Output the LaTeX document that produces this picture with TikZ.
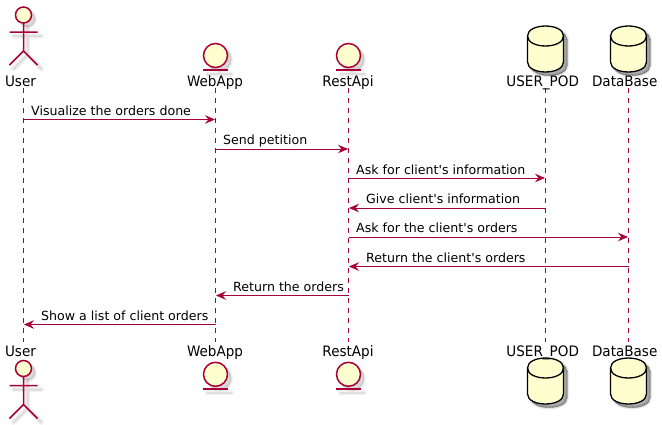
\documentclass[tikz,border=0pt]{standalone}
\usepackage{fontspec}
\setmainfont{DejaVu Sans}
\newfontfamily\msgfont{DejaVu Sans}
\newfontfamily\seqfont[FakeStretch=0.94]{DejaVu Sans}
\usetikzlibrary{arrows.meta}
\definecolor{seqline}{HTML}{A80036}
\definecolor{seqfill}{HTML}{FEFECE}
\tikzset{
  lifeline/.style={draw=seqline,line width=0.8pt,dash pattern=on 5pt off 5pt},
  msg/.style={draw=seqline,line width=0.9pt,-{Stealth[length=10pt,width=8.5pt,inset=3.5pt]},shorten >=0.5pt},
  msglabel/.style={font=\msgfont\fontsize{12.6}{15}\selectfont,anchor=base west,inner sep=0pt,text=black},
  partlabel/.style={font=\seqfont\fontsize{14.4}{17}\selectfont,anchor=base,inner sep=0pt,text=black},
  partshape/.style={draw=seqline,line width=1.5pt,fill=seqfill},
  partbar/.style={draw=seqline,line width=1.5pt},
  softa/.style={draw=black,draw opacity=0.05,line width=5pt,line cap=round},
  softb/.style={draw=black,draw opacity=0.08,line width=2.5pt,line cap=round},
  softfilla/.style={fill=black,fill opacity=0.06,draw=black,draw opacity=0.06,line width=3pt},
  softfillb/.style={fill=black,fill opacity=0.10,draw=none},
  dbshape/.style={draw=black,line width=1.3pt,fill=seqfill},
  dbline/.style={draw=black,line width=1.3pt},
  pics/actorfig/.style={code={
    \foreach \s in {softa,softb}
      \draw[\s] (4,8) -- (4,36) (-10,17) -- (18,17) (4,36) -- (-10,50) (4,36) -- (18,50);
    \path[softfilla] (4,0) circle (8);
    \path[softfillb] (4,0) circle (8);
    \draw[partshape] (0,-4) circle (8);
    \draw[partbar] (0,4) -- (0,32) (-14,13) -- (14,13) (0,32) -- (-14,46) (0,32) -- (14,46);
  }},
  pics/entityfig/.style={code={
    \path[softfilla] (4,4) circle (12);
    \path[softfillb] (4,4) circle (12);
    \foreach \s in {softa,softb}
      \draw[\s] (-8,18.5) -- (16,18.5);
    \draw[partshape] (0,0) circle (12);
    \draw[partbar] (-12.5,14.5) -- (12.5,14.5);
  }},
  pics/dbfig/.style={code={
    \foreach \o/\w in {0.06/4,0.08/2.5,0.10/1,0.12/0} {
      \path[fill=black,fill opacity=\o,draw=black,draw opacity=\o,line width=\w pt,shift={(3.5,3.5)}]
        (-18,10) .. controls (-18,-3.3) and (18,-3.3) .. (18,10) -- (18,36) .. controls (18,49.3) and (-18,49.3) .. (-18,36) -- cycle;
    }
    \draw[dbshape] (-18,10) .. controls (-18,-3.3) and (18,-3.3) .. (18,10) -- (18,36) .. controls (18,49.3) and (-18,49.3) .. (-18,36) -- cycle;
    \draw[dbline] (-18,10) .. controls (-18,23.3) and (18,23.3) .. (18,10);
  }},
}
\begin{document}
\begin{tikzpicture}[x=1pt,y=-1pt]
\useasboundingbox (0,0) rectangle (662,424);
% lifelines
\coordinate (ut) at (23.5,88); \coordinate (ub) at (23.5,342);
\coordinate (wt) at (215.5,88); \coordinate (wb) at (215.5,342);
\coordinate (rt) at (348.5,88); \coordinate (rb) at (348.5,342);
\coordinate (pt) at (545.5,88); \coordinate (pb) at (545.5,342);
\coordinate (dt) at (628.5,88); \coordinate (db) at (628.5,342);
\foreach \a/\b in {ut/ub,wt/wb,rt/rb,pt/pb,dt/db} \draw[lifeline] (\a) -- (\b);
% participants top
\pic at (23.5,19) {actorfig};
\pic at (215.5,55.5) {entityfig};
\pic at (348.5,55.5) {entityfig};
\pic at (545.5,26) {dbfig};
\pic at (628.5,26) {dbfig};
\node[partlabel] (u1) at (20.5,86) {User};
\node[partlabel] (w1) at (215,86) {WebApp};
\node[partlabel] (r1) at (348,86) {RestApi};
\node[partlabel] (p1) at (542.7,86) {USER\_POD};
\node[partlabel] (d1) at (624.7,86) {DataBase};
% participants bottom
\pic at (23.5,372.5) {actorfig};
\pic at (215.5,374.3) {entityfig};
\pic at (348.5,374.3) {entityfig};
\pic at (545.5,358) {dbfig};
\pic at (628.5,358) {dbfig};
\node[partlabel] (u2) at (20.5,356) {User};
\node[partlabel] (w2) at (215,356) {WebApp};
\node[partlabel] (r2) at (348,356) {RestApi};
\node[partlabel] (p2) at (542.7,356) {USER\_POD};
\node[partlabel] (d2) at (624.7,356) {DataBase};
% messages
\draw[msg] (ut |- 0,119.5) -- (wt |- 0,119.5);
\draw[msg] (wt |- 0,149) -- (rt |- 0,149);
\draw[msg] (rt |- 0,178) -- (pt |- 0,178);
\draw[msg] (pt |- 0,208) -- (rt |- 0,208);
\draw[msg] (rt |- 0,237) -- (dt |- 0,237);
\draw[msg] (dt |- 0,266.5) -- (rt |- 0,266.5);
\draw[msg] (rt |- 0,295.5) -- (wt |- 0,295.5);
\draw[msg] (wt |- 0,324.5) -- (ut |- 0,324.5);
\node[msglabel] (m1) at (31,115) {Visualize the orders done};
\node[msglabel] (m2) at (223,144) {Send petition};
\node[msglabel] (m3) at (356,174) {Ask for client's information};
\node[msglabel] (m4) at (366,203) {Give client's information};
\node[msglabel] (m5) at (356,232) {Ask for the client's orders};
\node[msglabel] (m6) at (366,262) {Return the client's orders};
\node[msglabel] (m7) at (233,291) {Return the orders};
\node[msglabel] (m8) at (41,320) {Show a list of client orders};
\end{tikzpicture}
\end{document}
